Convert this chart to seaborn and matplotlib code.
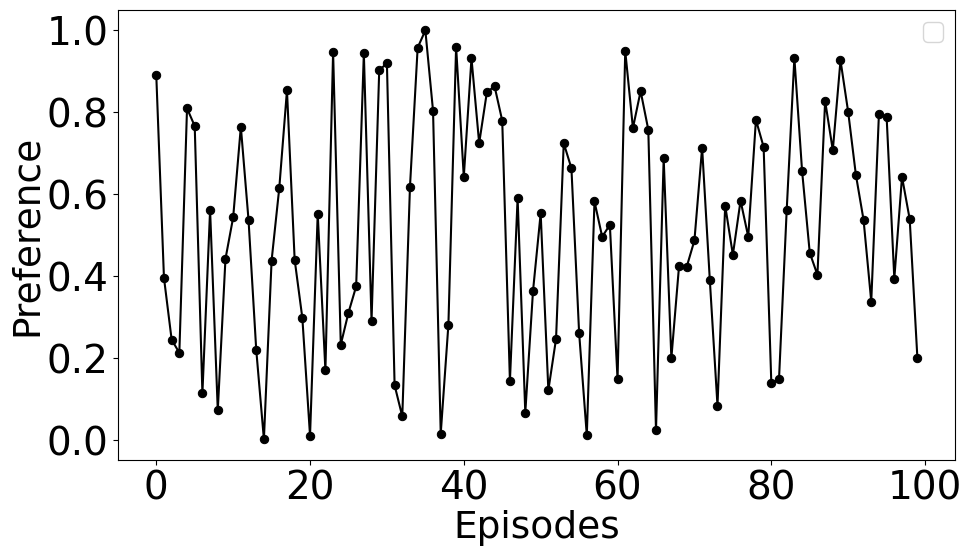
import matplotlib
matplotlib.use("Agg")
import matplotlib.pyplot as plt
from matplotlib.ticker import MultipleLocator
import seaborn as sns
import pandas as pd

episodes = list(range(100))
preference = [
    0.890, 0.396, 0.245, 0.213, 0.809, 0.766, 0.114, 0.561, 0.073, 0.442,
    0.543, 0.764, 0.537, 0.221, 0.002, 0.438, 0.615, 0.853, 0.440, 0.298,
    0.011, 0.552, 0.170, 0.946, 0.233, 0.311, 0.375, 0.943, 0.291, 0.902,
    0.919, 0.134, 0.058, 0.618, 0.957, 0.999, 0.803, 0.016, 0.282, 0.959,
    0.642, 0.931, 0.724, 0.848, 0.863, 0.779, 0.144, 0.590, 0.067, 0.363,
    0.553, 0.122, 0.247, 0.724, 0.663, 0.262, 0.012, 0.582, 0.496, 0.525,
    0.148, 0.949, 0.761, 0.851, 0.757, 0.024, 0.687, 0.200, 0.425, 0.423,
    0.487, 0.713, 0.391, 0.084, 0.572, 0.452, 0.584, 0.496, 0.781, 0.715,
    0.140, 0.148, 0.560, 0.932, 0.657, 0.457, 0.403, 0.827, 0.707, 0.926,
    0.800, 0.647, 0.537, 0.338, 0.796, 0.788, 0.394, 0.642, 0.539, 0.201,
]

df = pd.DataFrame({"Episodes": episodes, "Preference": preference})

fig, ax = plt.subplots(figsize=(9.69, 5.54), dpi=100)
sns.lineplot(data=df, x="Episodes", y="Preference", ax=ax, color="black",
             marker="o", markersize=6, markeredgecolor="black", linewidth=1.5)
ax.yaxis.set_major_locator(MultipleLocator(0.2))
ax.xaxis.set_major_locator(MultipleLocator(20))
ax.set_xlabel("Episodes", fontsize=27, labelpad=2)
ax.set_ylabel("Preference", fontsize=27, labelpad=1)
ax.tick_params(labelsize=28)
ax.legend(handles=[], fontsize=18)
fig.subplots_adjust(left=0.122, right=0.986, top=0.982, bottom=0.170)
plt.savefig("out.png")
plt.close()
